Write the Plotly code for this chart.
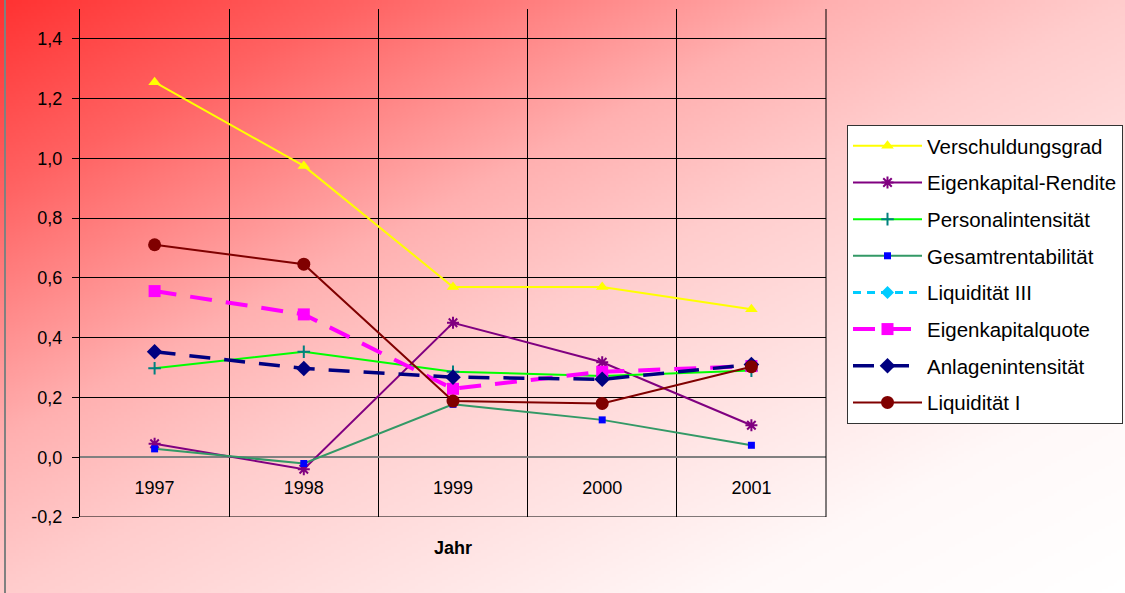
import base64
import struct
import zlib

import numpy as np
import plotly.graph_objects as go

# ---- data -------------------------------------------------------------
years = ["1997", "1998", "1999", "2000", "2001"]

verschuldungsgrad = [1.255, 0.975, 0.57, 0.57, 0.495]
eigenkapital_rendite = [0.045, -0.04, 0.45, 0.318, 0.107]
personalintensitaet = [0.298, 0.353, 0.286, 0.272, 0.29]
gesamtrentabilitaet = [0.028, -0.021, 0.177, 0.125, 0.04]
liquiditaet_iii = [None, None, None, None, None]
eigenkapitalquote = [0.556, 0.478, 0.229, 0.286, 0.305]
anlagenintensitaet = [0.353, 0.297, 0.268, 0.261, 0.31]
liquiditaet_i = [0.711, 0.646, 0.188, 0.18, 0.303]

y_tick_values = [-0.2, 0.0, 0.2, 0.4, 0.6, 0.8, 1.0, 1.2, 1.4]
y_range = [-0.2, 1.5]

# ---- page geometry ------------------------------------------------------
W, H = 1125, 593
M_L, M_R, M_T, M_B = 80, 299, 9, 76
PW, PH = W - M_L - M_R, H - M_T - M_B
FONT = "Liberation Sans, Arial, sans-serif"


def gradient_png(w, h):
    """Diagonal red-to-white gradient, encoded as a PNG data URI."""
    xs = np.linspace(0, 1, w)[None, :]
    ys = np.linspace(0, 1, h)[:, None]
    t = (xs + ys) / 2.0
    stops_t = [0.0, 0.16, 0.37, 0.5, 0.82, 1.0]
    stops_g = [50, 98, 176, 204, 248, 255]
    g = np.interp(t, stops_t, stops_g)
    r = np.full_like(g, 255.0)
    rgb = np.stack([r, g, g], axis=-1).round().clip(0, 255).astype(np.uint8)
    raw = b"".join(b"\x00" + rgb[i].tobytes() for i in range(h))

    def chunk(tag, data):
        c = struct.pack(">I", len(data)) + tag + data
        return c + struct.pack(">I", zlib.crc32(tag + data) & 0xFFFFFFFF)

    png = b"\x89PNG\r\n\x1a\n"
    png += chunk(b"IHDR", struct.pack(">IIBBBBB", w, h, 8, 2, 0, 0, 0))
    png += chunk(b"IDAT", zlib.compress(raw, 9))
    png += chunk(b"IEND", b"")
    return "data:image/png;base64," + base64.b64encode(png).decode()


series = [
    dict(name="Verschuldungsgrad", y=verschuldungsgrad,
         line=dict(color="#FFFF00", width=2),
         marker=dict(symbol="triangle-up", size=11, color="#FFFF00")),
    dict(name="Eigenkapital-Rendite", y=eigenkapital_rendite,
         line=dict(color="#800080", width=2),
         marker=dict(symbol="asterisk-open", size=10, color="#800080",
                     line=dict(color="#800080", width=2))),
    dict(name="Personalintensität", y=personalintensitaet,
         line=dict(color="#00FF00", width=2),
         marker=dict(symbol="cross-thin-open", size=9, color="#008080",
                     line=dict(color="#008080", width=2))),
    dict(name="Gesamtrentabilität", y=gesamtrentabilitaet,
         line=dict(color="#339966", width=2),
         marker=dict(symbol="square", size=7, color="#0000FF")),
    dict(name="Liquidität III", y=liquiditaet_iii,
         line=dict(color="#00CCFF", width=3, dash="8px,6px"),
         marker=dict(symbol="diamond", size=10, color="#00CCFF")),
    dict(name="Eigenkapitalquote", y=eigenkapitalquote,
         line=dict(color="#FF00FF", width=4, dash="22px,14px"),
         marker=dict(symbol="square", size=12, color="#FF00FF")),
    dict(name="Anlagenintensität", y=anlagenintensitaet,
         line=dict(color="#000080", width=3.5, dash="21px,14px"),
         marker=dict(symbol="diamond", size=12, color="#000080")),
    dict(name="Liquidität I", y=liquiditaet_i,
         line=dict(color="#800000", width=2),
         marker=dict(symbol="circle", size=13, color="#800000")),
]

fig = go.Figure()
for i, s in enumerate(series):
    fig.add_trace(go.Scatter(
        x=years, y=s["y"], name=s["name"], mode="lines+markers",
        line=s["line"], marker=s["marker"], legendgroup=f"g{i}",
        connectgaps=False,
    ))

# category axis sits on the zero line
x_axis_pos = (0 - y_range[0]) / (y_range[1] - y_range[0])

fig.update_layout(
    width=W, height=H,
    margin=dict(l=M_L, r=M_R, t=M_T, b=M_B, autoexpand=False),
    paper_bgcolor="#FFC8C8",
    plot_bgcolor="#FFFFFF",
    font=dict(family=FONT, size=18, color="#000000"),
    showlegend=True,
    legend=dict(
        x=(847 - M_L) / PW, y=(H - M_B - 125) / PH,
        xanchor="left", yanchor="top",
        bgcolor="#FFFFFF", bordercolor="#333333", borderwidth=1,
        font=dict(family=FONT, size=20.5, color="#000000"),
        tracegroupgap=7, itemwidth=69,
    ),
    xaxis=dict(
        type="category", tickson="boundaries",
        range=[-0.5, len(years) - 0.5],
        anchor="free", position=x_axis_pos,
        showgrid=True, gridcolor="#000000", gridwidth=1,
        showline=False, zeroline=False,
        ticks="", ticklabelstandoff=18,
        tickfont=dict(family=FONT, size=18),
        title=dict(text="<b>Jahr</b>", font=dict(family=FONT, size=18),
                   standoff=44),
    ),
    yaxis=dict(
        range=y_range,
        tickvals=y_tick_values,
        ticktext=[f"{v:.1f}".replace(".", ",") for v in y_tick_values],
        showgrid=True, gridcolor="#000000", gridwidth=1,
        zeroline=True, zerolinecolor="#808080", zerolinewidth=2,
        showline=True, linecolor="#000000", linewidth=1,
        ticks="outside", ticklen=7, tickcolor="#000000",
        ticklabelstandoff=6,
        tickfont=dict(family=FONT, size=18),
    ),
    images=[dict(
        source=gradient_png(375, 198),
        xref="paper", yref="paper",
        x=-M_L / PW, y=1 + M_T / PH,
        sizex=W / PW, sizey=H / PH,
        xanchor="left", yanchor="top",
        sizing="stretch", layer="below",
    )],
    shapes=[
        # bottom edge of the plot area
        dict(type="line", xref="paper", yref="y", x0=0, x1=1,
             y0=y_range[0], y1=y_range[0],
             line=dict(color="#000000", width=1)),
        # right edge of the plot area
        dict(type="line", xref="paper", yref="paper", x0=1, x1=1,
             y0=0, y1=1, line=dict(color="#000000", width=1)),
        # outer chart border on the left
        dict(type="line", xref="paper", yref="paper",
             x0=-(M_L - 5) / PW, x1=-(M_L - 5) / PW,
             y0=-M_B / PH, y1=1 + M_T / PH,
             line=dict(color="#808080", width=2)),
    ],
)

fig.write_html("out.html")
